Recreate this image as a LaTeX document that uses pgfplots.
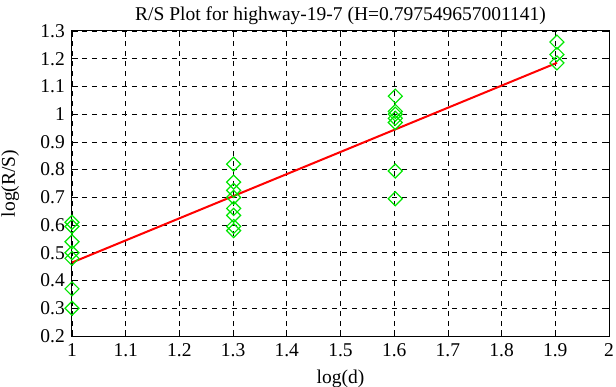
\documentclass[border=0pt]{standalone}
\usepackage{fontspec}
\setmainfont{Liberation Serif}
\usepackage{pgfplots}
\pgfplotsset{compat=1.18}
\definecolor{gpgreen}{RGB}{0,230,0}
\definecolor{gpred}{RGB}{255,0,0}
\pgfdeclareplotmark{sqdiamond}{%
  \pgfpathmoveto{\pgfqpoint{\pgfplotmarksize}{0pt}}%
  \pgfpathlineto{\pgfqpoint{0pt}{\pgfplotmarksize}}%
  \pgfpathlineto{\pgfqpoint{-\pgfplotmarksize}{0pt}}%
  \pgfpathlineto{\pgfqpoint{0pt}{-\pgfplotmarksize}}%
  \pgfpathclose
  \pgfusepathqstroke}
\newcommand\gpfont{\fontsize{19.5bp}{22bp}\selectfont}
\begin{document}
\gpfont
\begin{tikzpicture}[x=1bp,y=1bp]
\path[use as bounding box] (-72bp,-51bp) rectangle (544bp,336bp);
\begin{axis}[
  at={(0,0)}, anchor=south west,
  scale only axis, width=537bp, height=305bp,
  xmin=1, xmax=2, ymin=0.2, ymax=1.3,
  xtick={1,1.1,...,2.01}, ytick={0.2,0.3,...,1.31},
  /pgf/number format/assume math mode=true,
  /pgf/number format/fixed,
  /pgf/number format/precision=1,
  tick style={black, line width=0.8bp},
  major tick length=6bp,
  tick align=inside,
  axis line style={black, line width=1bp},
  grid=major,
  major grid style={black, dash pattern=on 5bp off 5bp, line width=0.8bp},
  title={R/S Plot for highway-19-7 (H=0.797549657001141)},
  xlabel={log(d)}, ylabel={log(R/S)},
  ticklabel style={font=\gpfont, inner sep=2bp},
  xticklabel style={yshift=-5bp},
  yticklabel style={xshift=-5bp},
  label style={font=\gpfont, inner sep=0bp},
  title style={font=\gpfont, inner sep=0bp, at={(0.5,1)}, anchor=base, yshift=5bp},
  xlabel style={at={(0.5,0)}, anchor=base, yshift=-47bp},
  ylabel style={at={(0,0.5)}, anchor=base, rotate=0, yshift=57bp},
  clip=false,
]
\addplot[only marks, mark=sqdiamond, mark size=7bp, mark options={draw=gpgreen, line width=1.2bp}]
coordinates {
(1,0.61) (1,0.595) (1,0.54) (1,0.50) (1,0.48) (1,0.37) (1,0.30)
(1.30103,0.82) (1.30103,0.755) (1.30103,0.725) (1.30103,0.70) (1.30103,0.66) (1.30103,0.635) (1.30103,0.595) (1.30103,0.58)
(1.60206,1.065) (1.60206,1.01) (1.60206,1.0) (1.60206,0.985) (1.60206,0.97) (1.60206,0.795) (1.60206,0.695)
(1.90309,1.26) (1.90309,1.215) (1.90309,1.185)
};
\addplot[gpred, line width=2bp] coordinates {(1,0.465) (1.90309,1.1852)};
\end{axis}
\end{tikzpicture}
\end{document}
